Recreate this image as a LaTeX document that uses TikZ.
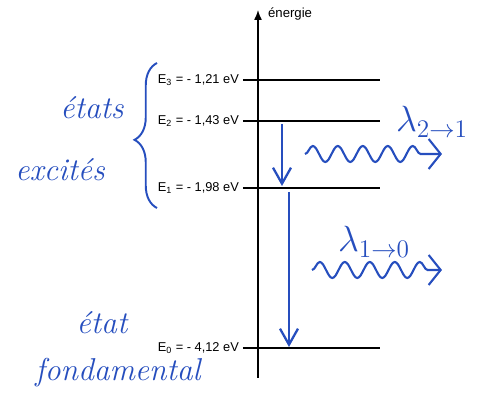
\documentclass[tikz,border=0pt]{standalone}
\usepackage{fontspec}
\usepackage{tikz}
\usetikzlibrary{arrows.meta,positioning,calc,decorations.pathmorphing,decorations.pathreplacing}
\newfontfamily\levelfont{Liberation Sans}
\definecolor{InkBlue}{RGB}{38,78,190}

\begin{document}
\begin{tikzpicture}[
  x=0.02cm,y=-0.02cm,
  level/.style={thick,black},
  lvllabel/.style={anchor=east,inner sep=1pt,font=\levelfont\fontsize{7.3}{9}\selectfont},
  hand/.style={InkBlue,font=\itshape\fontsize{18}{20}\selectfont,inner sep=0pt},
  drop/.style={-{Straight Barb[length=3.2mm,width=3.6mm]},InkBlue,line width=1.3pt},
  wave/.style={
    InkBlue,line width=1.2pt,-{Straight Barb[length=2.4mm,width=6mm]},
    decorate,decoration={snake,amplitude=1.6mm,segment length=5mm,post length=2mm}
  },
  lam/.style={InkBlue,font=\fontsize{20}{24}\selectfont,inner sep=0pt}
]
  \useasboundingbox (0,0) rectangle (478,394);

  % energy axis
  \coordinate (axbot) at (258,378);
  \coordinate (axtop) at (258,10);
  \draw[thick,-{Latex[length=2mm,width=1.6mm]}] (axbot) -- (axtop);
  \node[anchor=west,font=\levelfont\fontsize{7.5}{9}\selectfont,inner sep=1pt]
    (axlabel) at (266,14) {énergie};

  % levels
  \foreach \n/\y/\val in {3/80/{1,21}, 2/121/{1,43}, 1/188/{1,98}, 0/348/{4,12}}{
    \coordinate (e\n l) at (243,\y);
    \coordinate (e\n r) at (380,\y);
    \draw[level] (e\n l) -- (e\n r);
    \node[lvllabel] (lab\n) at (241,\y) {E\textsubscript{\n} = - \val\ eV};
  }

  % transitions
  \coordinate (t21a) at (282,124);
  \coordinate (t21b) at (282,186);
  \coordinate (t10a) at (289,192);
  \coordinate (t10b) at (289,347);
  \draw[drop] (t21a) -- (t21b);
  \draw[drop] (t10a) -- (t10b);

  % emitted photons
  \coordinate (w21s) at (305,154);
  \coordinate (w21e) at (442,154);
  \coordinate (w10s) at (312,270);
  \coordinate (w10e) at (442,270);
  \draw[wave] (w21s) -- (w21e);
  \draw[wave] (w10s) -- (w10e);
  \node[lam] (lam21) at (432,122) {$\lambda_{2\to1}$};
  \node[lam] (lam10) at (374,242) {$\lambda_{1\to0}$};

  % excited states
  \coordinate (brbot) at (157,208);
  \coordinate (brtop) at (157,63);
  \draw[InkBlue,line width=1.1pt,decorate,decoration={brace,amplitude=4.5mm,aspect=0.47}]
    (brbot) -- (brtop);
  \node[hand] (etats) at (92,108) {états};
  \node[hand] (excites) at (60,170) {excités};

  % ground state
  \node[hand] (etat) at (102,323) {état};
  \node[hand] (fond) at (118,373) {fondamental};
\end{tikzpicture}
\end{document}
